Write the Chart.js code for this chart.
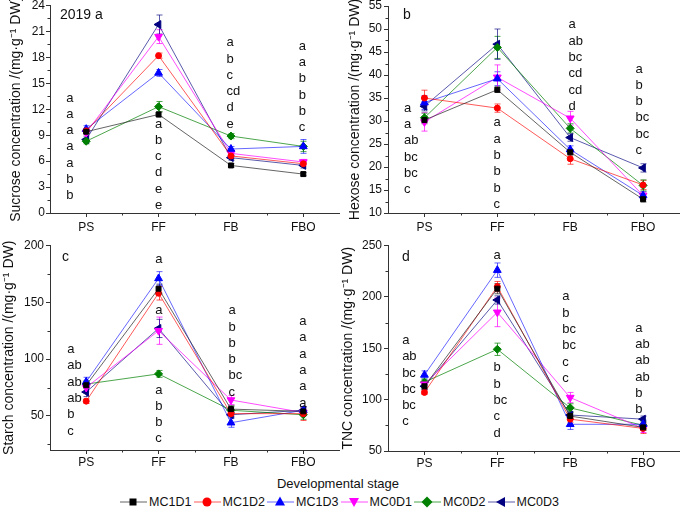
<!DOCTYPE html>
<html>
<head>
<meta charset="utf-8">
<script src="https://cdn.jsdelivr.net/npm/chart.js@4.4.1/dist/chart.umd.min.js"></script>
<style>
body { margin: 0; background: #fff; width: 685px; height: 511px; overflow: hidden; position: relative;
       font-family: "Liberation Sans", Arial, sans-serif; color: #111; }
canvas { position: absolute; }
#xtitle { position: absolute; left: 238px; width: 200px; top: 476px; text-align: center; font-size: 13px; }
.item { position: absolute; top: 494px; height: 16px; display: flex; align-items: center; font-size: 12.5px; }
.item svg { margin-right: 2px; }
</style>
</head>
<body>
<canvas id="cA" width="345" height="240" style="left:0;top:0"></canvas>
<canvas id="cB" width="345" height="240" style="left:340px;top:0"></canvas>
<canvas id="cC" width="345" height="230" style="left:0;top:240px"></canvas>
<canvas id="cD" width="345" height="230" style="left:340px;top:240px"></canvas>
<div id="xtitle">Developmental stage</div>
<div id="legend"></div>
<script>
const stages = ['PS', 'FF', 'FB', 'FBO'];
const seriesNames = ['MC1D1', 'MC1D2', 'MC1D3', 'MC0D1', 'MC0D2', 'MC0D3'];

// a - sucrose (mg/g DW), one row per treatment
const sucrose = [
    [9.4, 11.4, 5.5, 4.5],
    [9.5, 18.2, 6.6, 5.7],
    [9.7, 16.2, 7.4, 7.7],
    [9.3, 20.4, 6.9, 5.9],
    [8.3, 12.3, 8.9, 7.7],
    [8.5, 21.8, 6.4, 5.5]
];
const sucroseErr = [
    [0.2, 0.3, 0.2, 0.2],
    [0.3, 0.3, 0.3, 0.3],
    [0.4, 0.4, 0.3, 0.8],
    [0.3, 0.8, 0.3, 0.3],
    [0.3, 0.6, 0.3, 0.6],
    [0.3, 1.1, 0.3, 0.3]
];
const sucroseLetters = [
    ['a', 'a', 'a', 'a', 'a', 'b', 'b'],
    ['a', 'b', 'c', 'd', 'e', 'e'],
    ['a', 'b', 'c', 'cd', 'd', 'e'],
    ['a', 'a', 'b', 'b', 'b', 'c']
];
const sucroseTicks = [0, 3, 6, 9, 12, 15, 18, 21, 24];

// b - hexose
const hexose = [
    [30.2, 36.8, 23.2, 13.0],
    [35.0, 32.8, 21.8, 16.1],
    [34.0, 39.2, 23.8, 13.8],
    [29.8, 39.5, 30.6, 13.8],
    [30.7, 46.0, 28.4, 16.0],
    [33.2, 46.7, 26.4, 19.8]
];
const hexoseErr = [
    [0.8, 0.6, 0.6, 0.6],
    [1.7, 0.9, 1.2, 1.0],
    [1.5, 1.5, 0.8, 0.8],
    [2.0, 2.7, 1.5, 0.8],
    [1.0, 2.4, 1.0, 1.2],
    [1.0, 3.3, 0.8, 0.9]
];
const hexoseLetters = [
    ['a', 'a', 'ab', 'bc', 'bc', 'c'],
    ['a', 'a', 'b', 'b', 'b', 'c'],
    ['a', 'ab', 'bc', 'cd', 'cd', 'd'],
    ['a', 'b', 'b', 'bc', 'bc', 'c']
];
const hexoseTicks = [10, 15, 20, 25, 30, 35, 40, 45, 50, 55];

// c - starch
const starch = [
    [77, 162, 56, 54],
    [63, 158, 52, 52],
    [80, 171, 44, 55],
    [75, 125, 64, 53],
    [78, 87, 55, 51],
    [71, 127, 51, 55]
];
const starchErr = [
    [3, 4, 3, 3],
    [2, 6, 2, 6],
    [4, 6, 4, 3],
    [3, 12, 4, 3],
    [3, 3, 3, 4],
    [4, 8, 2, 3]
];
const starchLetters = [
    ['a', 'ab', 'ab', 'ab', 'b', 'c'],
    ['a', 'a', 'a', 'b', 'b', 'c'],
    ['a', 'b', 'b', 'b', 'bc', 'c'],
    ['a', 'a', 'a', 'a', 'a', 'a']
];
const starchTicks = [50, 100, 150, 200];

// d - total non-structural carbohydrate
const tnc = [
    [113, 208, 84, 73],
    [107, 210, 81, 72],
    [124, 226, 76, 76],
    [115, 185, 102, 72],
    [117, 149, 92, 75],
    [113, 197, 85, 81]
];
const tncErr = [
    [3, 5, 3, 3],
    [2, 5, 3, 5],
    [4, 7, 5, 4],
    [3, 14, 5, 4],
    [3, 6, 4, 4],
    [3, 4, 3, 3]
];
const tncLetters = [
    ['a', 'ab', 'bc', 'bc', 'bc', 'c'],
    ['a', 'b', 'b', 'bc', 'c', 'd'],
    ['a', 'b', 'bc', 'bc', 'c', 'c'],
    ['a', 'ab', 'ab', 'ab', 'b', 'b']
];
const tncTicks = [50, 100, 150, 200, 250];

const styles = [
    { color: '#000000', line: 'rgba(50,50,50,0.75)', shape: 'rect', r: 3.5, rot: 0 },
    { color: '#ff0000', line: 'rgba(255,0,0,0.65)', shape: 'circle', r: 3, rot: 0 },
    { color: '#0000ff', line: 'rgba(0,0,255,0.6)', shape: 'triangle', r: 4.5, rot: 0 },
    { color: '#ff00ff', line: 'rgba(255,0,255,0.7)', shape: 'triangle', r: 4.5, rot: 180 },
    { color: '#008000', line: 'rgba(0,128,0,0.7)', shape: 'rectRot', r: 4, rot: 0 },
    { color: '#000080', line: 'rgba(0,0,128,0.65)', shape: 'triangle', r: 4.5, rot: 270 }
];
const family = '"Liberation Sans", Arial, sans-serif';
const axisColor = '#333';

// letterAt: per stage, chunks of [x offset px, first letter y value, count]
const panels = [
    { id: 'cA', values: sucrose, errors: sucroseErr, letters: sucroseLetters, ticks: sucroseTicks, min: 0, minor: 1.5,
      title: 'Sucrose concentration /(mg·g⁻¹ DW)', tag: '2019 a', tagAt: [10, 10],
      box: { padTop: 5, yw: 50, xh: 27, titlePad: 7.5, tickPad: 1, xPad: 3 },
      letterAt: [[[-20, 13.3]], [[-3.6, 10.3]], [[-4.4, 19.7]], [[-4.5, 19.3]]] },
    { id: 'cB', values: hexose, errors: hexoseErr, letters: hexoseLetters, ticks: hexoseTicks, min: 10, minor: 2.5,
      title: 'Hexose concentration /(mg·g⁻¹ DW)', tag: 'b', tagAt: [15, 9],
      box: { padTop: 6, yw: 48, xh: 27, titlePad: 6.5, tickPad: 2, xPad: 3 },
      letterAt: [[[-20.5, 32.8]], [[-3.7, 29.6]], [[-1.6, 50.9]], [[-7.5, 41.3]]] },
    { id: 'cC', values: starch, errors: starchErr, letters: starchLetters, ticks: starchTicks, min: 20, minor: 25,
      title: 'Starch concentration /(mg·g⁻¹ DW)', tag: 'c', tagAt: [12, 12],
      box: { padTop: 3, yw: 50, xh: 20, titlePad: 0.8, tickPad: 2, xPad: 1 },
      letterAt: [[[-19, 108.4]], [[-3.3, 187.6, 1], [-3.3, 143.2, 1], [-3.3, 72.8]], [[-2.4, 142.6]], [[-4, 133]]] },
    { id: 'cD', values: tnc, errors: tncErr, letters: tncLetters, ticks: tncTicks, min: 50, minor: 25,
      title: 'TNC concentration /(mg·g⁻¹ DW)', tag: 'd', tagAt: [14, 12],
      box: { padTop: 3, yw: 48, xh: 19, titlePad: 0, tickPad: 2, xPad: 1 },
      letterAt: [[[-22.3, 157.7]], [[-3.7, 240.7, 1], [-3.7, 131]], [[-8, 200]], [[-7.7, 169.5]]] }
];

function makeExtras(p) {
    return {
        id: 'extras',
        beforeDatasetsDraw(chart) {
            const { ctx, scales: { x, y } } = chart;
            ctx.save();
            ctx.lineWidth = 1;
            p.errors.forEach((errs, i) => {
                ctx.strokeStyle = styles[i].line;
                errs.forEach((e, j) => {
                    const v = p.values[i][j];
                    const px = Math.round(x.getPixelForValue(j)) + 0.5;
                    const t = y.getPixelForValue(v + e), b = y.getPixelForValue(v - e);
                    ctx.beginPath();
                    ctx.moveTo(px, t); ctx.lineTo(px, b);
                    ctx.moveTo(px - 3, t); ctx.lineTo(px + 3, t);
                    ctx.moveTo(px - 3, b); ctx.lineTo(px + 3, b);
                    ctx.stroke();
                });
            });
            ctx.restore();
        },
        afterDraw(chart) {
            const { ctx, chartArea: a, scales: { x, y } } = chart;
            ctx.save();
            // minor ticks
            ctx.strokeStyle = axisColor;
            ctx.lineWidth = 1;
            ctx.beginPath();
            const t0 = p.ticks[0];
            let v = t0 - Math.floor((t0 - y.min) / p.minor) * p.minor;
            for (; v <= y.max + 1e-6; v += p.minor) {
                if (p.ticks.some(t => Math.abs(t - v) < 1e-6)) continue;
                const py = Math.round(y.getPixelForValue(v)) + 0.5;
                ctx.moveTo(a.left, py); ctx.lineTo(a.left - 2.5, py);
            }
            for (let j = 0; j < stages.length - 1; j++) {
                const px = Math.round((x.getPixelForValue(j) + x.getPixelForValue(j + 1)) / 2) + 0.5;
                ctx.moveTo(px, a.bottom); ctx.lineTo(px, a.bottom + 2.5);
            }
            ctx.stroke();

            // significance letters
            ctx.fillStyle = '#111';
            ctx.font = '13px ' + family;
            ctx.textAlign = 'left';
            ctx.textBaseline = 'middle';
            p.letterAt.forEach((chunks, j) => {
                let k = 0;
                chunks.forEach(([dx, val, n]) => {
                    const cnt = n || p.letters[j].length - k;
                    const x0 = x.getPixelForValue(j) + dx;
                    const y0 = y.getPixelForValue(val);
                    for (let m = 0; m < cnt; m++) {
                        ctx.fillText(p.letters[j][k + m], x0, y0 + m * 16.3);
                    }
                    k += cnt;
                });
            });

            // panel tag
            ctx.font = '14px ' + family;
            ctx.fillText(p.tag, a.left + p.tagAt[0], a.top + p.tagAt[1]);
            ctx.restore();
        }
    };
}

panels.forEach(p => {
    const datasets = seriesNames.map((name, i) => ({
        label: name,
        data: p.values[i],
        borderColor: styles[i].line,
        backgroundColor: styles[i].color,
        borderWidth: 1,
        pointStyle: styles[i].shape,
        pointRadius: styles[i].r,
        pointRotation: styles[i].rot,
        pointBackgroundColor: styles[i].color,
        pointBorderColor: styles[i].color,
        pointBorderWidth: 1,
        tension: 0
    }));
    new Chart(document.getElementById(p.id), {
        type: 'line',
        data: { labels: stages, datasets: datasets },
        options: {
            responsive: false,
            animation: false,
            events: [],
            layout: { padding: { top: p.box.padTop, left: 0, right: 0, bottom: 0 } },
            plugins: { legend: { display: false }, tooltip: { enabled: false } },
            scales: {
                x: {
                    type: 'category',
                    offset: true,
                    grid: { display: true, drawOnChartArea: false, drawTicks: true, tickLength: 4, color: axisColor },
                    border: { display: true, color: axisColor, width: 1 },
                    ticks: { font: { family: family, size: 12 }, color: '#111', padding: p.box.xPad, maxRotation: 0 },
                    afterFit: s => { s.height = p.box.xh; s.paddingLeft = 0; s.paddingRight = 0; }
                },
                y: {
                    min: p.min,
                    max: p.ticks[p.ticks.length - 1],
                    afterBuildTicks: s => { s.ticks = p.ticks.map(t => ({ value: t })); },
                    grid: { display: true, drawOnChartArea: false, drawTicks: true, tickLength: 4, color: axisColor },
                    border: { display: true, color: axisColor, width: 1 },
                    ticks: { font: { family: family, size: 12 }, color: '#111', padding: p.box.tickPad },
                    title: {
                        display: true, text: p.title, color: '#111',
                        font: { family: family, size: 14, lineHeight: 1.2 },
                        padding: { top: p.box.titlePad, bottom: 0 }
                    },
                    afterFit: s => { s.width = p.box.yw; s.paddingTop = 0; s.paddingBottom = 0; }
                }
            }
        },
        plugins: [makeExtras(p)]
    });
});

// legend below the panels
const shapes = [
    '<rect x="9.5" y="3.5" width="7" height="7" fill="#000"/>',
    '<circle cx="13" cy="7" r="4.5" fill="#ff0000"/>',
    '<polygon points="13,1.5 18,10.5 8,10.5" fill="#0000ff"/>',
    '<polygon points="8,3 18,3 13,12" fill="#ff00ff"/>',
    '<polygon points="13,1.5 18.5,7 13,12.5 7.5,7" fill="#008000"/>',
    '<polygon points="8,7 17,2 17,12" fill="#000080"/>'
];
const legend = document.getElementById('legend');
seriesNames.forEach((name, i) => {
    const item = document.createElement('div');
    item.className = 'item';
    item.style.left = (120 + i * 73.5) + 'px';
    item.innerHTML = '<svg width="27" height="14"><line x1="0" y1="7" x2="27" y2="7" stroke="' + styles[i].line +
        '" stroke-width="1"/>' + shapes[i] + '</svg><span>' + name + '</span>';
    legend.appendChild(item);
});
</script>
</body>
</html>
